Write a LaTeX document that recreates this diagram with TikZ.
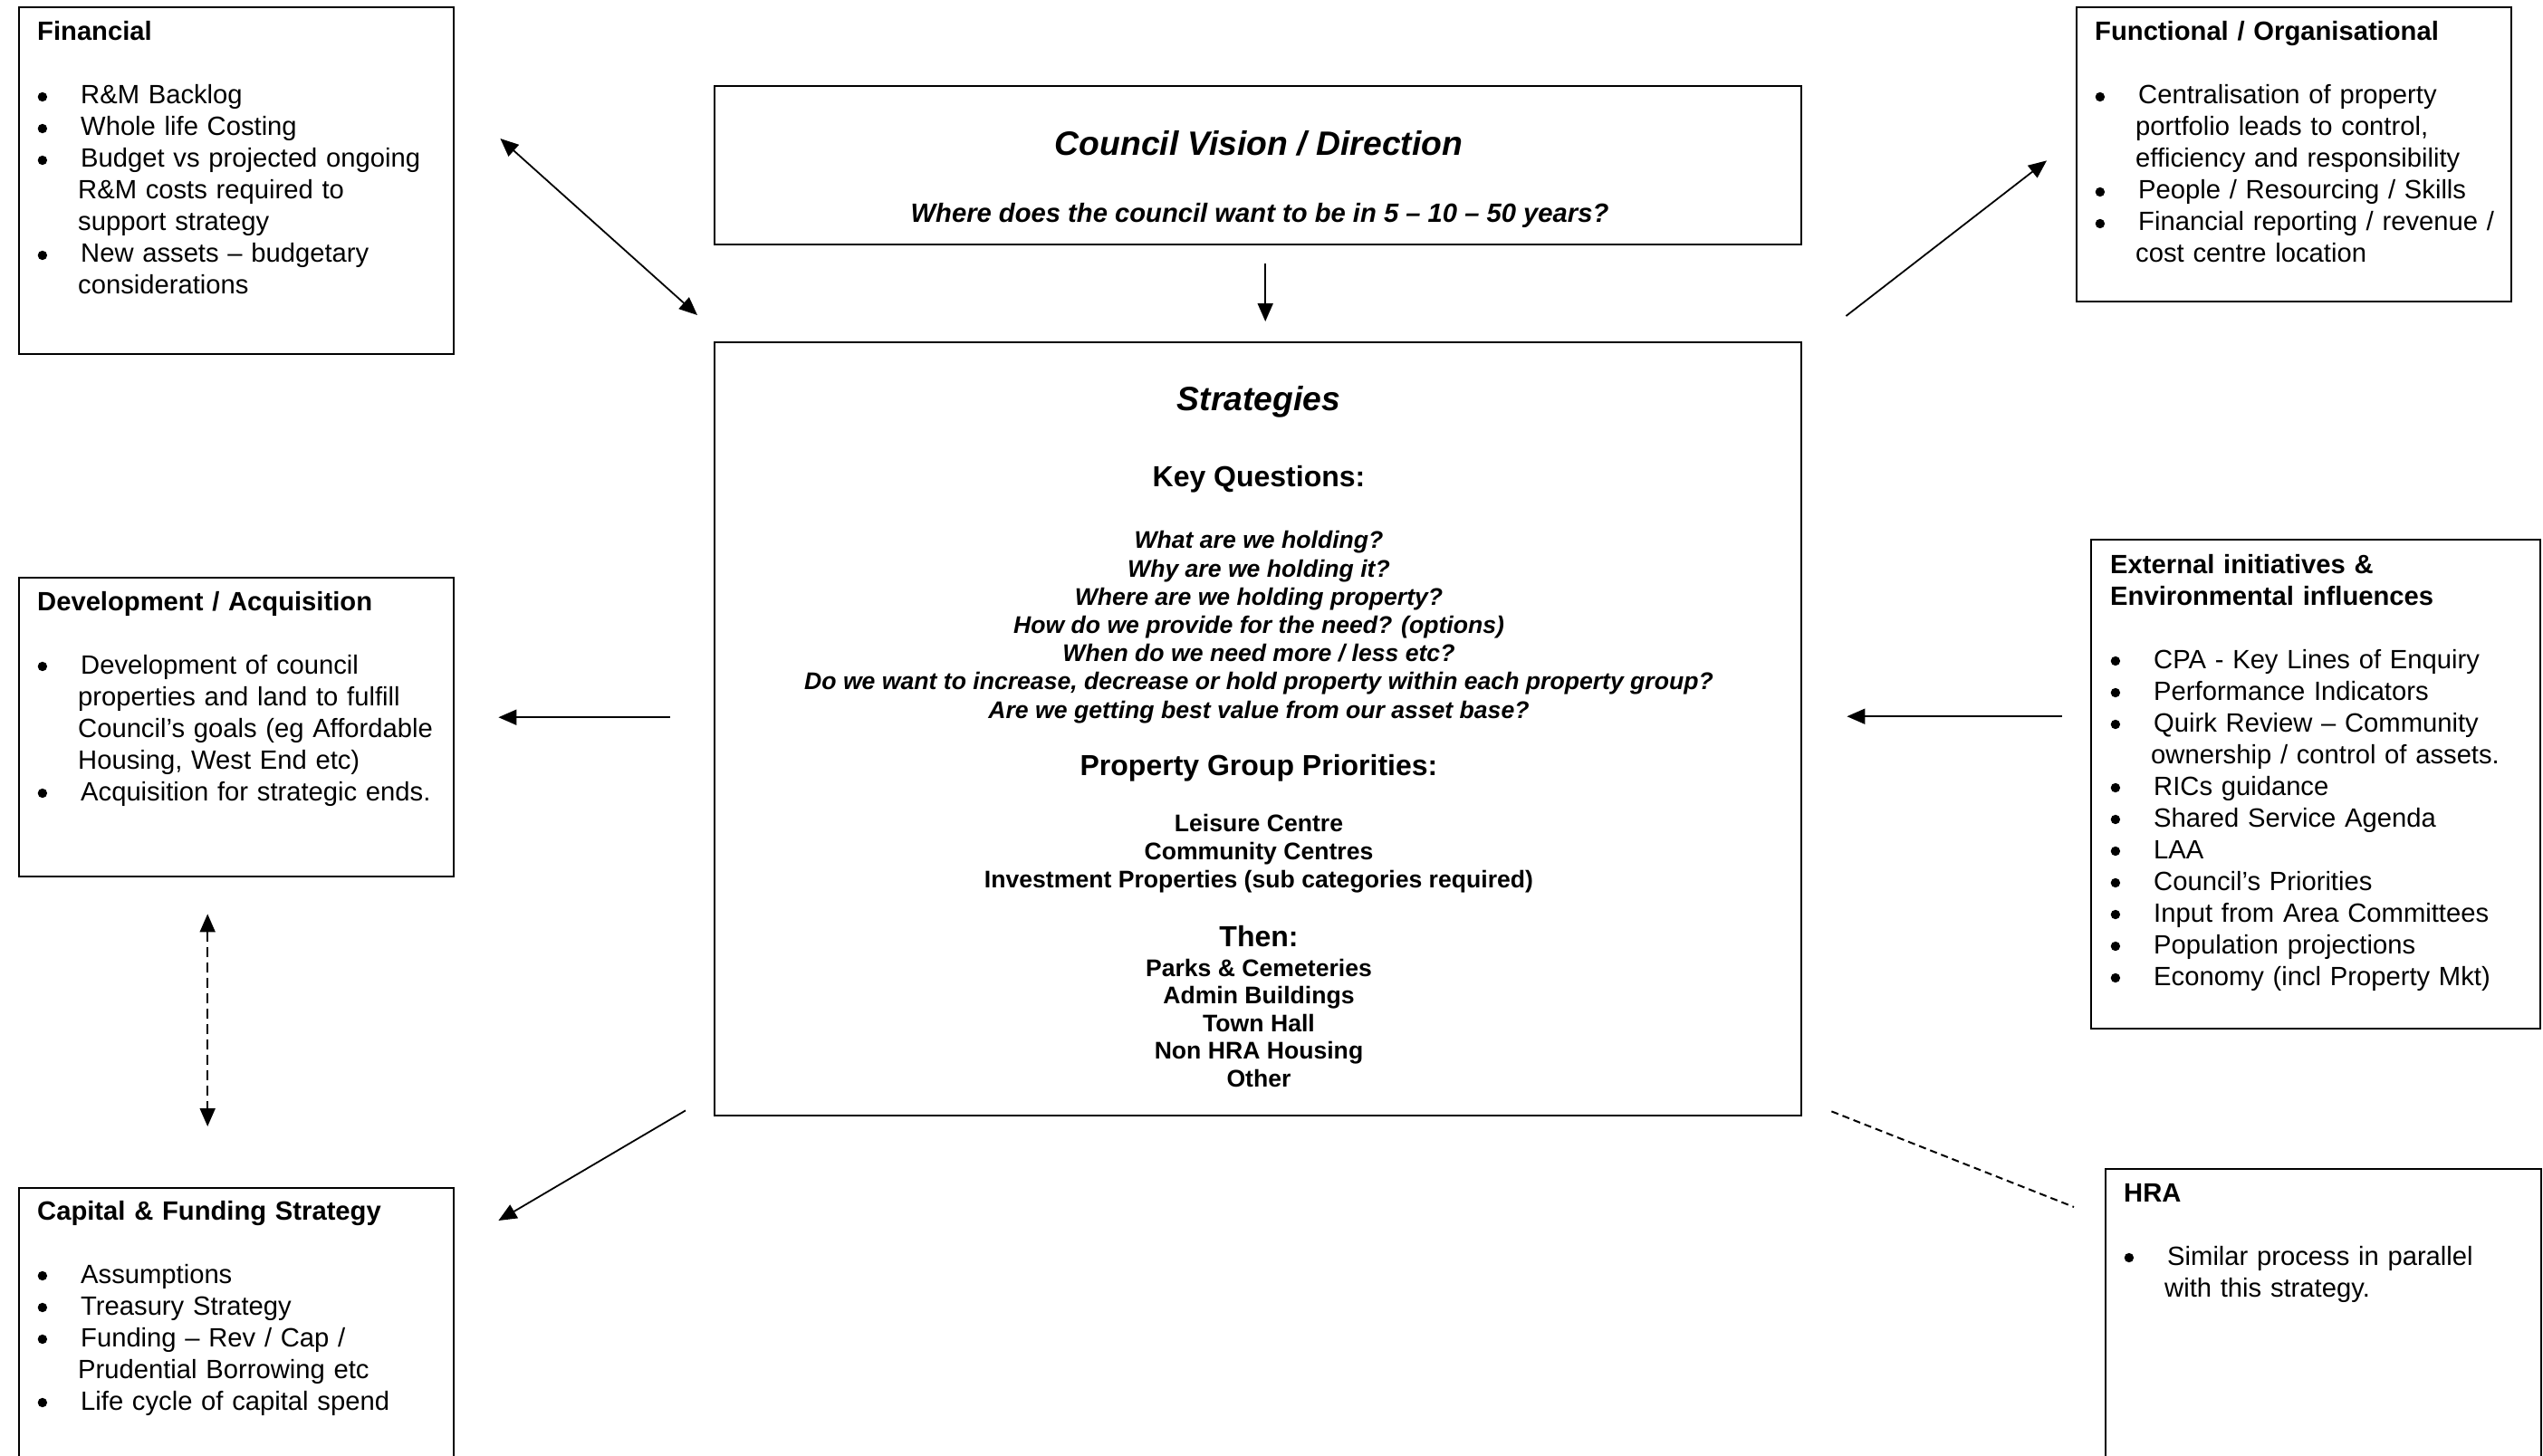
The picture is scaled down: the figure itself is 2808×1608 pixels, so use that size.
\documentclass[tikz,border=0pt]{standalone}
\usepackage{fontspec}
\setmainfont{Liberation Sans}
\usetikzlibrary{arrows.meta,calc}
\newcommand{\bodyfnt}{\fontsize{29.2}{35}\selectfont}
\newcommand{\bigbul}{\tikz[baseline=0pt,x=1pt,y=1pt]\fill[black] (5.2,8) circle[radius=5.2pt];}
\newcommand{\bitem}[1]{\par\hangindent=45pt\hangafter=1\noindent\makebox[48pt][l]{\hspace{0.5pt}\bigbul}#1}
\newcommand{\tgap}{\par\vspace{35pt}}
\begin{document}
\begin{tikzpicture}[x=1pt,y=-1pt,
  box/.style={draw, line width=2.4pt, inner sep=0pt, anchor=north west},
  txt/.style={inner sep=0pt, anchor=base west, text width=460pt, font=\bodyfnt},
  ctr/.style={inner sep=0pt, anchor=base, align=center},
  tip/.tip={Triangle[length=20pt,width=17pt]},
  arr/.style={line width=1.8pt, -tip},
  darr/.style={line width=1.8pt, tip-tip},
  ddarr/.style={line width=1.8pt, tip-tip, dash pattern=on 11pt off 6pt},
  dline/.style={line width=2pt, dash pattern=on 8pt off 5pt}
]
\useasboundingbox (0,0) rectangle (2808,1608);
\clip (0,0) rectangle (2808,1608);
\fill[white] (0,0) rectangle (2808,1608);

% boxes
\node[box, minimum width=480pt, minimum height=383pt] (fin) at (20,7) {};
\node[box, minimum width=1200pt, minimum height=175pt] (vis) at (788,94) {};
\node[box, minimum width=1200pt, minimum height=854pt] (str) at (788,377) {};
\node[box, minimum width=480pt, minimum height=325pt] (fun) at (2292,7) {};
\node[box, minimum width=480pt, minimum height=330pt] (dev) at (20,637) {};
\node[box, minimum width=496pt, minimum height=540pt] (ext) at (2308,595) {};
\node[box, minimum width=480pt, minimum height=420pt] (cap) at (20,1311) {};
\node[box, minimum width=481pt, minimum height=420pt] (hra) at (2324,1290) {};

% box texts
\node[txt] (fintxt) at (41,45) {\textbf{Financial}\tgap
\bitem{R\&M Backlog}
\bitem{Whole life Costing}
\bitem{Budget vs projected ongoing\newline R\&M costs required to\newline support strategy}
\bitem{New assets – budgetary\newline considerations}\par};

\node[txt] (funtxt) at (2313,45) {\textbf{Functional / Organisational}\tgap
\bitem{Centralisation of property\newline portfolio leads to control,\newline efficiency and responsibility}
\bitem{People / Resourcing / Skills}
\bitem{Financial reporting / revenue /\newline cost centre location}\par};

\node[txt] (devtxt) at (41,674) {\textbf{Development / Acquisition}\tgap
\bitem{Development of council\newline properties and land to fulfill\newline Council’s goals (eg Affordable\newline Housing, West End etc)}
\bitem{Acquisition for strategic ends.}\par};

\node[txt] (exttxt) at (2330,633) {\textbf{External initiatives \&\newline Environmental influences}\tgap
\bitem{CPA - Key Lines of Enquiry}
\bitem{Performance Indicators}
\bitem{Quirk Review – Community\newline ownership / control of assets.}
\bitem{RICs guidance}
\bitem{Shared Service Agenda}
\bitem{LAA}
\bitem{Council’s Priorities}
\bitem{Input from Area Committees}
\bitem{Population projections}
\bitem{Economy (incl Property Mkt)}\par};

\node[txt] (captxt) at (41,1347) {\textbf{Capital \& Funding Strategy}\tgap
\bitem{Assumptions}
\bitem{Treasury Strategy}
\bitem{Funding – Rev / Cap /\newline Prudential Borrowing etc}
\bitem{Life cycle of capital spend}\par};

\node[txt] (hratxt) at (2345,1327) {\textbf{HRA}\tgap
\bitem{Similar process in parallel\newline with this strategy.}\par};

% vision texts
\node[ctr, font=\fontsize{37.3}{43}\selectfont\bfseries\itshape] (vistitle) at (1390,172) {Council Vision / Direction};
\node[ctr, font=\fontsize{29.2}{35}\selectfont\bfseries\itshape] (vissub) at (1391,245) {Where does the council want to be in 5 – 10 – 50 years?};

% strategies texts (base anchor = last line)
\node[ctr, font=\fontsize{37.3}{43}\selectfont\bfseries\itshape] (strtitle) at (1390,453) {Strategies};
\node[ctr, font=\fontsize{32}{37}\selectfont\bfseries] (keyq) at (1390,537) {Key Questions:};
\node[ctr, font=\fontsize{26.6}{31.2}\selectfont\bfseries\itshape] (qs) at (1390,793) {What are we holding?\\Why are we holding it?\\Where are we holding property?\\How do we provide for the need? (options)\\When do we need more / less etc?\\Do we want to increase, decrease or hold property within each property group?\\Are we getting best value from our asset base?};
\node[ctr, font=\fontsize{32}{37}\selectfont\bfseries] (pgp) at (1390,856) {Property Group Priorities:};
\node[ctr, font=\fontsize{26.6}{31}\selectfont\bfseries] (pg1) at (1390,980) {Leisure Centre\\Community Centres\\Investment Properties (sub categories required)};
\node[ctr, font=\fontsize{32}{37}\selectfont\bfseries] (then) at (1390,1045) {Then:};
\node[ctr, font=\fontsize{26.6}{30.5}\selectfont\bfseries] (pg2) at (1390,1200) {Parks \& Cemeteries\\Admin Buildings\\Town Hall\\Non HRA Housing\\Other};

% connectors
\draw[darr] ($(fin.north east)+(50,146)$) -- ($(str.north west)+(-18,-29)$);
\draw[arr] ($(vis.south)+(8,20)$) -- ($(str.north)+(8,-22)$);
\draw[arr] ($(str.north east)+(48,-28)$) -- ($(fun.south west)+(-32,-157)$);
\draw[arr] ($(str.west)+(-48,-13)$) -- ($(dev.east)+(48,-11)$);
\draw[arr] ($(ext.west)+(-31,-75)$) -- ($(str.east)+(49,-14)$);
\draw[ddarr] ($(dev.south)+(-32,40)$) -- ($(cap.north)+(-32,-67)$);
\draw[arr] ($(str.south west)+(-31,-7)$) -- ($(cap.north east)+(48,37)$);
\draw[dline] ($(str.south east)+(32,-6)$) -- ($(hra.north west)+(-34,43)$);
\end{tikzpicture}
\end{document}
